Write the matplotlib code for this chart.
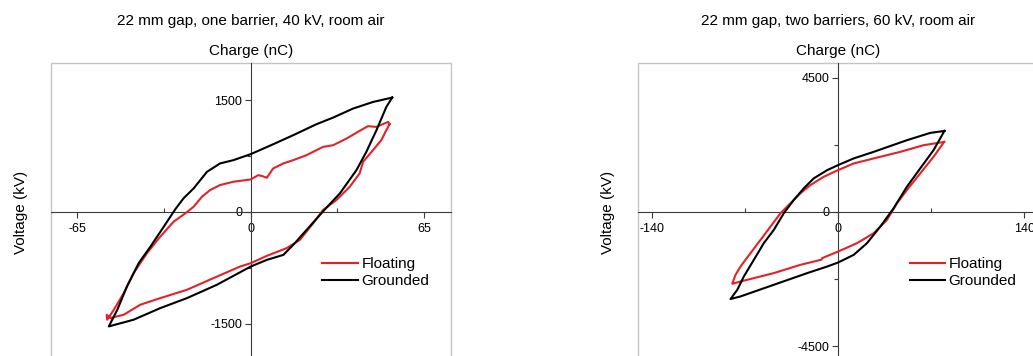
import matplotlib.pyplot as plt
from matplotlib.patches import Rectangle

plt.rcParams['font.family'] = ['Liberation Sans', 'DejaVu Sans']

# ---- data (charge nC, voltage) ----
# left panel: one barrier, 40 kV
g1_q = [53.0, 45.8, 38.3, 30.9, 24.6, 15.9, 8.5, 0, -6.5, -11.5, -16.4, -18.9, -21.4, -25.2,
        -28.3, -32.6, -37.6, -42, -46.4, -50, -53.2,
        -43.9, -33.9, -23.9, -12.7, 0, 6, 12.2, 15.9, 20.9, 27.8, 33.4, 39.6, 43.3, 47.1, 50.8, 53.0]
g1_v = [1536, 1477, 1388, 1268, 1178, 1031, 911, 777, 696, 652, 540, 428, 317, 183,
        36, -197, -465, -687, -1000, -1312, -1536,
        -1446, -1290, -1156, -977, -732, -643, -576, -442, -241, 36, 250, 562, 807, 1098, 1410, 1536]
f1_q = [52, 51.5, 47.1, 43.9, 40.8, 35.9, 30.9, 27.1, 20.9, 15.9, 12.2, 8.4, 6, 4.5, 2.8, 0,
        -6.5, -11.5, -15.2, -18.3, -21.4, -24.5, -28.9, -33.9, -38.9, -43.9, -47.6, -51.3, -53.8,
        -54.0, -52.6, -47.6, -41.4, -33.9, -23.9, -14, -4, 0, 6, 13.4, 18.4, 23.4, 27.1, 32.1,
        37.1, 40.8, 42.1, 45.8, 48.9, 50.8, 52]
f1_v = [1178, 1210, 1142, 1152, 1089, 987, 897, 874, 763, 696, 652, 585, 459, 480, 495, 437,
        406, 362, 295, 205, 71, -18, -130, -330, -553, -821, -1089, -1312, -1446,
        -1380, -1424, -1379, -1245, -1156, -1044, -888, -732, -687, -589, -486, -375, -151, 27, 161,
        339, 518, 674, 830, 964, 1098, 1178]

# right panel: two barriers, 60 kV
g2_q = [79.9, 69.2, 51.7, 26.7, 11.7, 0, -8.2, -18.3, -25.8, -33.3, -40.8, -48.3, -55.8, -63.3,
        -70.8, -75.7, -80.8,
        -73.3, -48.3, -23.2, -8.2, 0, 11.7, 21.7, 31.7, 41.7, 51.7, 61.7, 71.7, 79.9]
g2_v = [2721, 2654, 2409, 2018, 1797, 1573, 1405, 1128, 793, 402, -43, -602, -1047, -1606,
        -2165, -2610, -2921,
        -2834, -2443, -2051, -1830, -1696, -1439, -1047, -492, 124, 847, 1462, 2074, 2721]
f2_q = [79.7, 64.2, 46.7, 26.7, 11.7, 0, -10.8, -20.8, -28.3, -35.8, -43.3, -50.8, -58.3, -65.8,
        -73.3, -77, -79.5,
        -73.3, -48.3, -28.3, -12.5, -12, 0, 14.2, 26.7, 36.7, 44.2, 51.7, 61.7, 71.7, 79.7]
f2_v = [2352, 2242, 2018, 1797, 1629, 1405, 1181, 903, 625, 291, -43, -492, -937, -1382,
        -1830, -2108, -2409,
        -2332, -2051, -1773, -1600, -1549, -1328, -1047, -713, -268, 291, 736, 1295, 1851, 2352]

titles = ['22 mm gap, one barrier, 40 kV, room air', '22 mm gap, two barriers, 60 kV, room air']
xlims = [75, 150]
ylims = [2000, 5000]
xmajor = [[-65, 0, 65], [-140, 0, 140]]
xminor = [[-32.5, 32.5], [-70, 70]]
ymajor = [[-1500, 0, 1500], [-4500, 0, 4500]]
yminor = [[-750, 750], [-2250, 2250]]
series = [[(f1_q, f1_v), (g1_q, g1_v)], [(f2_q, f2_v), (g2_q, g2_v)]]

red = '#e32228'
axc = '#3a3a3a'

fig = plt.figure(figsize=(10.33, 3.56), dpi=100)
positions = [[0.049, -0.014, 0.3875, 0.837], [0.618, -0.014, 0.3866, 0.837]]

for i in range(2):
    ax = fig.add_axes(positions[i])
    (fq, fv), (gq, gv) = series[i]
    ax.plot(fq, fv, color=red, lw=1.5, label='Floating', zorder=3)
    ax.plot(gq, gv, color='black', lw=1.5, label='Grounded', zorder=3)
    ax.set_xlim(-xlims[i], xlims[i])
    ax.set_ylim(-ylims[i], ylims[i])

    # axes through the origin, light frame around
    for s in ['top', 'right']:
        ax.spines[s].set_visible(False)
    ax.spines['left'].set_position('zero')
    ax.spines['bottom'].set_position('zero')
    ax.spines['left'].set_color(axc)
    ax.spines['bottom'].set_color(axc)
    ax.add_patch(Rectangle((0, 0), 1, 1, transform=ax.transAxes, fill=False,
                           ec='#c4c4c4', lw=1.0, clip_on=False, zorder=0))

    ax.set_xticks(xmajor[i])
    ax.set_xticks(xminor[i], minor=True)
    ax.set_xticklabels([str(v) for v in xmajor[i]])
    ax.set_yticks(ymajor[i])
    ax.set_yticks(yminor[i], minor=True)
    ax.set_yticklabels([str(v) for v in ymajor[i]])
    ax.tick_params(axis='x', which='major', direction='out', length=4, width=0.8,
                   color=axc, labelsize=9, pad=4)
    ax.tick_params(axis='x', which='minor', direction='in', length=3, width=0.8, color=axc)
    ax.tick_params(axis='y', which='major', direction='out', length=4, width=0.8,
                   color=axc, labelsize=9, pad=2)
    ax.tick_params(axis='y', which='minor', direction='out', length=3, width=0.8, color=axc)

    ax.text(0.5, 1.017, 'Charge (nC)', transform=ax.transAxes, ha='center',
            va='bottom', fontsize=11)
    ax.text(0.5, 1.117, titles[i], transform=ax.transAxes, ha='center',
            va='bottom', fontsize=11)
    ax.text(-0.075, 0.5, 'Voltage (kV)', transform=ax.transAxes, rotation=90,
            ha='center', va='center', fontsize=11)

    ax.legend(loc='upper left', bbox_to_anchor=(0.66, 0.375), frameon=False,
              fontsize=11, handlelength=2.3, handletextpad=0.25,
              labelspacing=0.2, borderpad=0)

fig.savefig('out.png', dpi=100)
